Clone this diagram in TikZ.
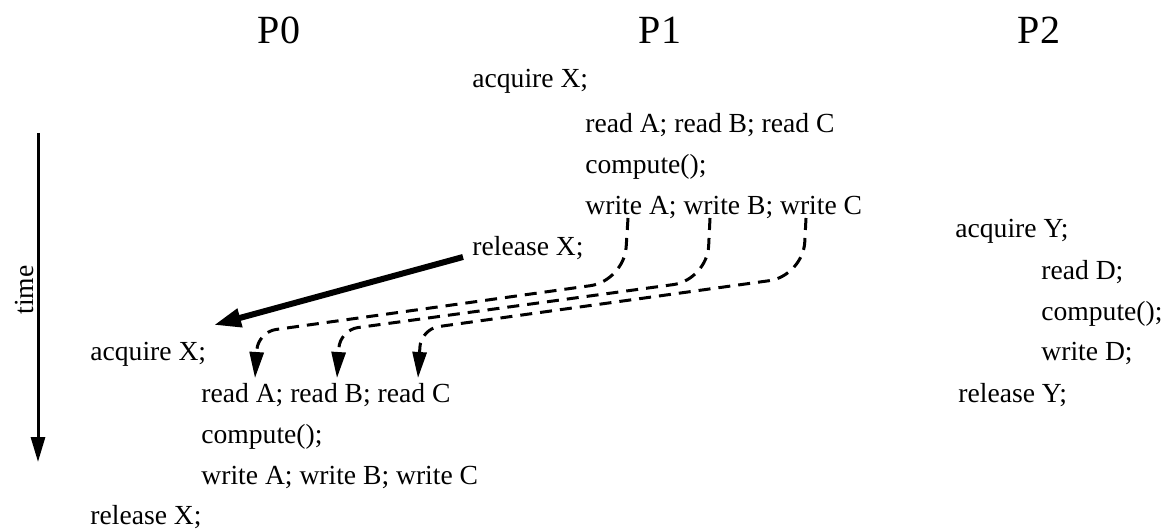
\documentclass[tikz,border=0pt]{standalone}
\usepackage{fontspec}
\setmainfont{Liberation Serif}
\usetikzlibrary{arrows.meta}
\tikzset{
  ligne/.style={anchor=mid west, inner sep=0pt, font=\fontsize{13.8}{16}\selectfont},
  titre/.style={inner sep=0pt, font=\fontsize{20}{24}\selectfont},
  fleche/.style={-{Triangle[length=12.5pt,width=7pt]}, line width=1.5pt},
  grosse/.style={-{Triangle[length=13.5pt,width=9pt]}, line width=3pt},
  pointille/.style={-{Triangle[length=13pt,width=7pt]}, line width=1.5pt,
    dash pattern=on 6pt off 4pt},
}
\begin{document}
\begin{tikzpicture}[x=0.5pt,y=-0.5pt]
        \useasboundingbox (0,0) rectangle (1165,529);

        % Titres des processus
        \node[titre] (p0) at (279,30) {P0};
        \node[titre] (p1) at (660,30) {P1};
        \node[titre] (p2) at (1039,30) {P2};

        % Axe du temps
        \coordinate (t0) at (38,133);
        \coordinate (t1) at (38,462);
        \draw[fleche] (t0) -- (t1);
        \node[ligne, anchor=center, rotate=90] (temps) at (24,290) {time};

        % Processus P1
        \node[ligne] (acqA) at (472,83) {acquire X;};
        \node[ligne] (lecA) at (585,128) {read A; read B; read C};
        \node[ligne] (calA) at (585,169) {compute();};
        \node[ligne] (ecrA) at (585,210) {write A; write B; write C};
        \node[ligne] (relA) at (472,251) {release X;};

        % Processus P2
        \node[ligne] (acqY) at (955,233) {acquire Y;};
        \node[ligne] (lecY) at (1041,275) {read D;};
        \node[ligne] (calY) at (1041,316) {compute();};
        \node[ligne] (ecrY) at (1041,356) {write D;};
        \node[ligne] (relY) at (958,398) {release Y;};

        % Processus P0
        \node[ligne] (acqB) at (90,356) {acquire X;};
        \node[ligne] (lecB) at (201,398) {read A; read B; read C};
        \node[ligne] (calB) at (201,439) {compute();};
        \node[ligne] (ecrB) at (201,480) {write A; write B; write C};
        \node[ligne] (relB) at (90,520) {release X;};

        % Passage du verrou
        \coordinate (dep) at (463,257);
        \coordinate (arr) at (214,325);
        \draw[grosse] (dep) -- (arr);

        % Propagation des ecritures
        \coordinate (wa) at (628,218);
        \coordinate (wb) at (710,218);
        \coordinate (wc) at (806,218);
        \coordinate (ha) at (624,281);
        \coordinate (hb) at (707,280);
        \coordinate (hc) at (803,276);
        \coordinate (ba) at (258,332);
        \coordinate (bb) at (340,330);
        \coordinate (bc) at (421,329);
        \coordinate (ra) at (255,378);
        \coordinate (rb) at (337,378);
        \coordinate (rc) at (418,378);
        \draw[pointille, rounded corners=17pt] (wa) -- (ha) [rounded corners=9pt] -- (ba) -- (ra);
        \draw[pointille, rounded corners=17pt] (wb) -- (hb) [rounded corners=9pt] -- (bb) -- (rb);
        \draw[pointille, rounded corners=17pt] (wc) -- (hc) [rounded corners=9pt] -- (bc) -- (rc);
\end{tikzpicture}
\end{document}
